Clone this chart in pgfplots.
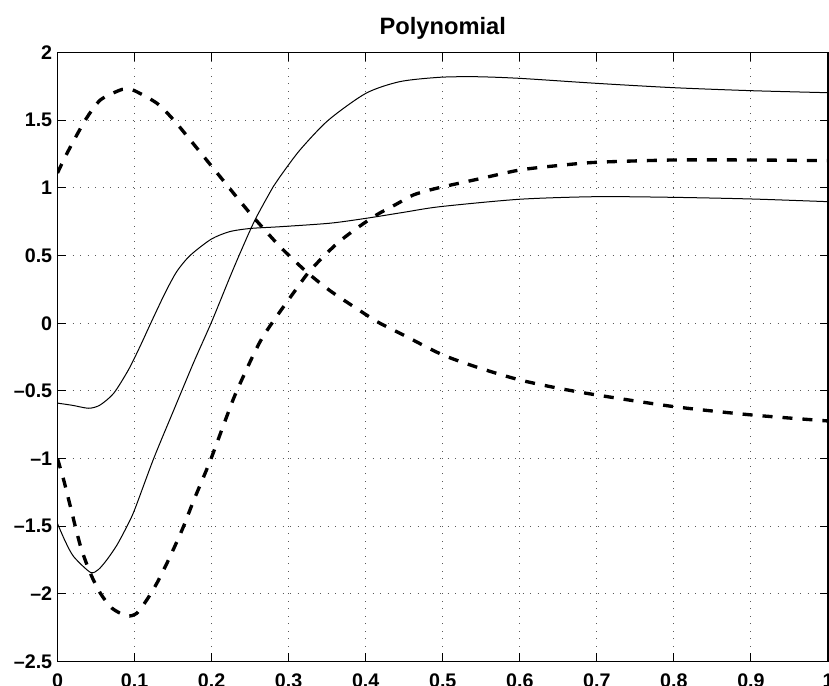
\documentclass[border=0pt]{standalone}
\usepackage{fontspec}
\setmainfont{Liberation Sans}
\usepackage{pgfplots}
\pgfplotsset{compat=1.18}

\begin{document}
\begin{tikzpicture}
\begin{axis}[
  scale only axis,
  width=462.3pt, height=365.5pt,
  xmin=0, xmax=1, ymin=-2.5, ymax=2,
  xtick={0,0.1,0.2,0.3,0.4,0.5,0.6,0.7,0.8,0.9,1},
  xticklabels={0,0.1,0.2,0.3,0.4,0.5,0.6,0.7,0.8,0.9,1},
  ytick={-2.5,-2,-1.5,-1,-0.5,0,0.5,1,1.5,2},
  yticklabels={--2.5,--2,--1.5,--1,--0.5,0,0.5,1,1.5,2},
  tick align=inside,
  xtick pos=both, ytick pos=both,
  major tick length=5pt,
  tick style={black, line width=0.6pt},
  axis line style={black, line width=0.7pt},
  grid=major,
  major grid style={black!65, line width=0.6pt, dash pattern=on 0.6pt off 3.9pt},
  xticklabel style={font=\fontsize{11.8}{13}\selectfont\bfseries, inner sep=0pt, anchor=north, yshift=-7pt},
  yticklabel style={font=\fontsize{11.8}{13}\selectfont\bfseries, inner sep=0pt, anchor=east, xshift=-3pt},
  title={Polynomial},
  every axis title shift=0pt,
  title style={font=\fontsize{14.2}{16}\selectfont\bfseries, at={(0.5,1)}, anchor=base, yshift=10.5pt, inner sep=0pt},
  clip=true,
]
% first solid response
\addplot[black, line width=0.6pt, smooth, tension=0.45] coordinates {
  (0,-0.590) (0.02,-0.607) (0.0405,-0.628) (0.055,-0.605) (0.073,-0.517)
  (0.092,-0.345) (0.107,-0.173) (0.121,0.0) (0.1395,0.222) (0.1547,0.381)
  (0.172,0.5) (0.1992,0.62) (0.223,0.676) (0.25,0.700) (0.2888,0.713)
  (0.3537,0.739) (0.4004,0.775) (0.45,0.820) (0.4964,0.861) (0.6,0.916)
  (0.7,0.935) (0.8,0.930) (0.9,0.918) (1,0.898)
};
% second solid response
\addplot[black, line width=0.6pt, smooth, tension=0.45] coordinates {
  (0,-1.480) (0.01,-1.610) (0.021,-1.724) (0.0426,-1.840) (0.053,-1.820)
  (0.064,-1.748) (0.077,-1.640) (0.09,-1.502) (0.1,-1.379) (0.1248,-1.0)
  (0.151,-0.640) (0.1767,-0.290) (0.2,0.010) (0.223,0.330) (0.2369,0.517)
  (0.2563,0.763) (0.28,1.009) (0.2888,1.083) (0.3147,1.280) (0.3515,1.500)
  (0.4004,1.699) (0.4445,1.785) (0.4964,1.817) (0.544,1.821) (0.6,1.809)
  (0.7,1.772) (0.8,1.740) (0.9,1.718) (1,1.703)
};
% first dashed response
\addplot[black, line width=2pt, line cap=butt, dash pattern=on 6pt off 6pt, smooth, tension=0.45] coordinates {
  (0,1.110) (0.0123,1.255) (0.036,1.500) (0.0556,1.649) (0.0815,1.723)
  (0.09,1.728) (0.1,1.718) (0.129,1.625) (0.151,1.500) (0.18,1.300)
  (0.211,1.083) (0.25,0.812) (0.2888,0.566) (0.323,0.381) (0.355,0.235)
  (0.401,0.061) (0.4185,0.0) (0.45,-0.090) (0.5,-0.234) (0.55,-0.335)
  (0.6,-0.419) (0.65,-0.480) (0.7,-0.530) (0.8,-0.616) (0.9,-0.677) (1,-0.722)
};
% second dashed response
\addplot[black, line width=2pt, line cap=butt, dash pattern=on 6pt off 6pt, smooth, tension=0.45] coordinates {
  (0,-1.000) (0.008,-1.157) (0.0167,-1.354) (0.03,-1.650) (0.0426,-1.846)
  (0.0556,-1.994) (0.0707,-2.105) (0.09,-2.162) (0.103,-2.142) (0.116,-2.043)
  (0.129,-1.920) (0.142,-1.773) (0.155,-1.613) (0.164,-1.495) (0.1767,-1.310)
  (0.19,-1.130) (0.2,-0.990) (0.215,-0.760) (0.2304,-0.530) (0.252,-0.260)
  (0.265,-0.115) (0.28,0.015) (0.2975,0.155) (0.306,0.222) (0.325,0.370)
  (0.345,0.492) (0.365,0.600) (0.388,0.700) (0.414,0.800) (0.44,0.880)
  (0.462,0.948) (0.492,0.997) (0.55,1.070) (0.6,1.132) (0.65,1.165)
  (0.7,1.189) (0.8,1.206) (0.9,1.206) (1,1.201)
};
\end{axis}
\pgfresetboundingbox
\useasboundingbox (-34.5pt,-14.6pt) rectangle (462.9pt,397pt);
\end{tikzpicture}
\end{document}
